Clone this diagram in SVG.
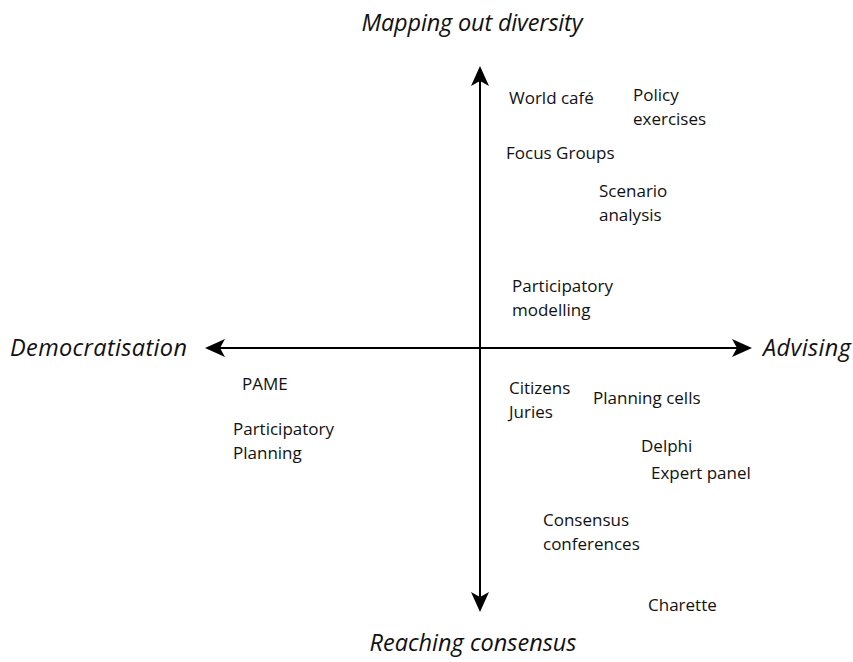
<svg xmlns="http://www.w3.org/2000/svg" width="853" height="662" viewBox="0 0 853 662">
<style>
.lbl{font-family:"Open Sans","Noto Sans",sans-serif;font-size:17px;fill:#111}
.ax{font-family:"Open Sans","Noto Sans",sans-serif;font-size:23.5px;font-style:italic;fill:#111}
.axis{stroke:#000;stroke-width:2;fill:none}
</style>
<defs>
<marker id="ah" viewBox="0 0 20 20" refX="18" refY="10" markerWidth="20" markerHeight="20" markerUnits="userSpaceOnUse" orient="auto-start-reverse">
<path d="M0,1 L20,10 L0,19 L5,10 Z" fill="#000"/>
</marker>
</defs>
<rect width="853" height="662" fill="#fff"/>
<g id="connectors">
<line class="axis" x1="480" y1="68" x2="480" y2="610" marker-start="url(#ah)" marker-end="url(#ah)"/>
<line class="axis" x1="207" y1="348" x2="750" y2="348" marker-start="url(#ah)" marker-end="url(#ah)"/>
</g>
<g id="axis-top"><text class="ax" x="472" y="31" text-anchor="middle" textLength="221">Mapping out diversity</text></g>
<g id="axis-bottom"><text class="ax" x="473" y="651" text-anchor="middle" textLength="207">Reaching consensus</text></g>
<g id="axis-left"><text class="ax" x="10" y="356" textLength="177">Democratisation</text></g>
<g id="axis-right"><text class="ax" x="763" y="356" textLength="88">Advising</text></g>
<g id="world-cafe"><text class="lbl" x="509" y="104">World café</text></g>
<g id="policy-exercises"><text class="lbl" x="633" y="101">Policy<tspan x="633" dy="24">exercises</tspan></text></g>
<g id="focus-groups"><text class="lbl" x="506" y="159">Focus Groups</text></g>
<g id="scenario-analysis"><text class="lbl" x="599" y="197">Scenario<tspan x="599" dy="24">analysis</tspan></text></g>
<g id="participatory-modelling"><text class="lbl" x="512" y="292">Participatory<tspan x="512" dy="24">modelling</tspan></text></g>
<g id="pame"><text class="lbl" x="242" y="390">PAME</text></g>
<g id="participatory-planning"><text class="lbl" x="233" y="435">Participatory<tspan x="233" dy="24">Planning</tspan></text></g>
<g id="citizens-juries"><text class="lbl" x="509" y="394">Citizens<tspan x="509" dy="24">Juries</tspan></text></g>
<g id="planning-cells"><text class="lbl" x="593" y="404">Planning cells</text></g>
<g id="delphi"><text class="lbl" x="641" y="452">Delphi</text></g>
<g id="expert-panel"><text class="lbl" x="651" y="479">Expert panel</text></g>
<g id="consensus-conferences"><text class="lbl" x="543" y="526">Consensus<tspan x="543" dy="24">conferences</tspan></text></g>
<g id="charette"><text class="lbl" x="648" y="611">Charette</text></g>
</svg>
